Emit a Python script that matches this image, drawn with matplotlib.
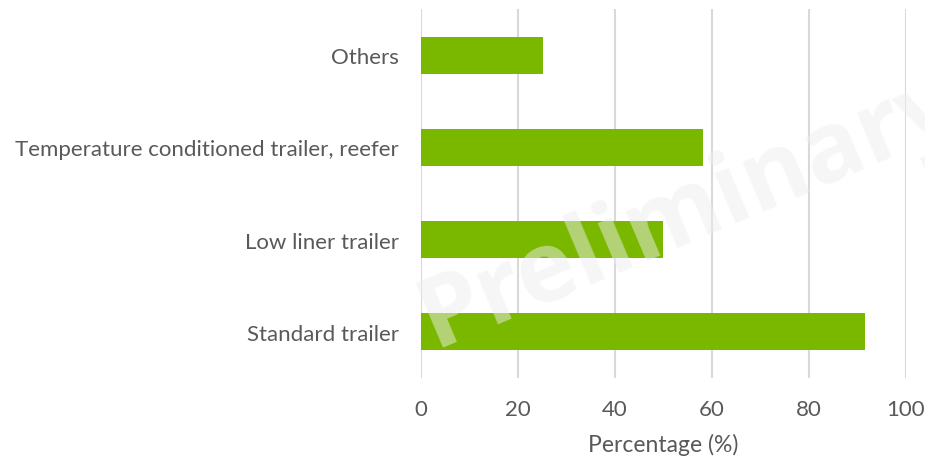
import matplotlib
matplotlib.use("Agg")
import matplotlib.pyplot as plt

# Trailer types and share (%)
categories = ["Standard trailer", "Low liner trailer",
              "Temperature conditioned trailer, reefer", "Others"]
values = [91.6, 50.0, 58.3, 25.2]
xticks = [0, 20, 40, 60, 80, 100]

plt.rcParams["font.family"] = ["Lato", "DejaVu Sans"]
text_color = "#595959"

fig = plt.figure(figsize=(9.25, 4.6), dpi=100)
ax = fig.add_axes([0.455, 0.176, 0.524, 0.802])

ax.barh(range(len(categories)), values, height=0.4, color="#7AB800", zorder=2)
ax.set_ylim(-0.5, len(categories) - 0.5)
ax.set_xlim(0, 100)
ax.set_xticks(xticks)
ax.set_yticks(range(len(categories)))
ax.set_yticklabels(categories)

ax.grid(axis="x", color="#d9d9d9", linewidth=1.5, zorder=0)
for s in ax.spines.values():
    s.set_visible(False)
ax.tick_params(length=0, labelsize=16, colors=text_color)
ax.tick_params(axis="x", pad=15)
ax.tick_params(axis="y", pad=16)
ax.set_xlabel("Percentage (%)", fontsize=16.5, color=text_color, labelpad=10)

# watermark
fig.text(0.745, 0.54, "Preliminary", family="Open Sans", fontsize=71,
         fontweight="bold", color="#eeeeee", alpha=0.5, rotation=23,
         ha="center", va="center", zorder=10)

fig.savefig("out.png", dpi=100)
